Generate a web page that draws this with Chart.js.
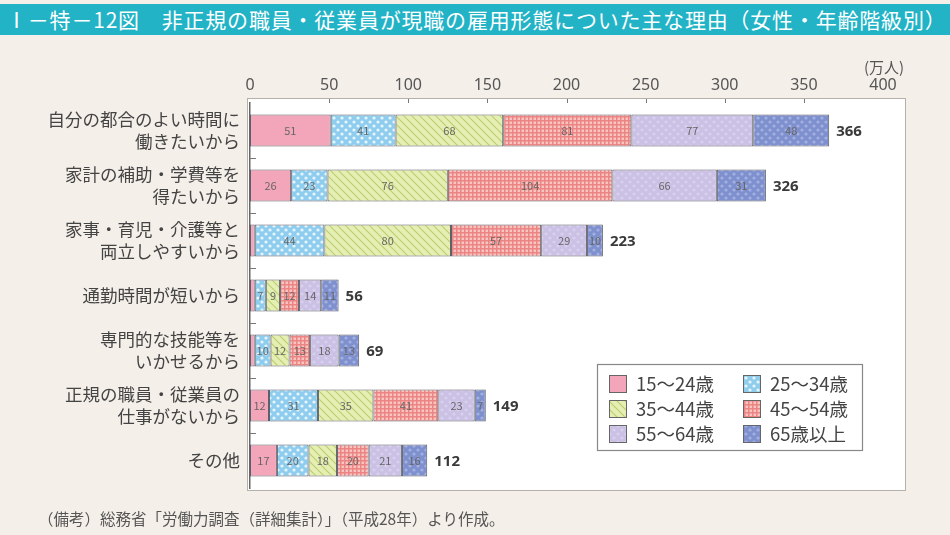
<!DOCTYPE html>
<html lang="ja">
<head>
<meta charset="utf-8">
<script src="https://cdn.jsdelivr.net/npm/chart.js@4.4.0/dist/chart.umd.min.js"></script>
<style>
    html, body { margin: 0; padding: 0; }
    body {
        width: 950px; height: 535px; position: relative; overflow: hidden;
        background: #f4efe9;
        font-family: "Noto Sans CJK JP", "Noto Sans", sans-serif;
    }
    .title {
        position: absolute; left: 0; top: 4px; width: 950px; height: 31px;
        background: #22b3c6; color: #fff; font-size: 21px; line-height: 31px;
        letter-spacing: 0.8px;
        padding-left: 6px; box-sizing: border-box; white-space: nowrap; overflow: hidden;
    }
    .note {
        position: absolute; left: 38px; top: 507px; font-size: 15.5px; color: #555;
    }
    #chart { position: absolute; left: 0; top: 0; }
</style>
</head>
<body>
<div class="title">Ⅰ－特－12図　非正規の職員・従業員が現職の雇用形態についた主な理由（女性・年齢階級別）</div>
<canvas id="chart" width="950" height="535"></canvas>
<div class="note">（備考）総務省「労働力調査（詳細集計）」（平成28年）より作成。</div>
<script>
    const categories = [
        ['自分の都合のよい時間に', '働きたいから'],
        ['家計の補助・学費等を', '得たいから'],
        ['家事・育児・介護等と', '両立しやすいから'],
        '通勤時間が短いから',
        ['専門的な技能等を', 'いかせるから'],
        ['正規の職員・従業員の', '仕事がないから'],
        'その他'
    ];
    const ageGroups = ['15～24歳', '25～34歳', '35～44歳', '45～54歳', '55～64歳', '65歳以上'];
    const age15to24 = [51, 26, 3, 3, 3, 12, 17];
    const age25to34 = [41, 23, 44, 7, 10, 31, 20];
    const age35to44 = [68, 76, 80, 9, 12, 35, 18];
    const age45to54 = [81, 104, 57, 12, 13, 41, 20];
    const age55to64 = [77, 66, 29, 14, 18, 23, 21];
    const age65plus = [48, 31, 10, 11, 13, 7, 16];
    const totals = [366, 326, 223, 56, 69, 149, 112];
    const xMax = 400;
    const xStep = 50;
    const unitLabel = '(万人)';

    // small tiles used as fill patterns
    function makePattern(bg, draw) {
        const c = document.createElement('canvas');
        c.width = 8; c.height = 8;
        const g = c.getContext('2d');
        g.fillStyle = bg;
        g.fillRect(0, 0, 8, 8);
        if (draw) draw(g);
        return g.createPattern(c, 'repeat');
    }
    function dots(color) {
        return g => {
            g.fillStyle = color;
            g.beginPath(); g.arc(2, 2, 1.6, 0, Math.PI * 2); g.fill();
            g.beginPath(); g.arc(6, 6, 1.6, 0, Math.PI * 2); g.fill();
        };
    }

    const fills = [
        '#f3a5b9',
        makePattern('#8fcdee', dots('#e6f5fd')),
        makePattern('#e5efb4', g => {
            g.strokeStyle = '#bccf72'; g.lineWidth = 1.2;
            g.beginPath(); g.moveTo(0, 0); g.lineTo(8, 8); g.stroke();
            g.beginPath(); g.moveTo(-4, 4); g.lineTo(4, 12); g.stroke();
            g.beginPath(); g.moveTo(4, -4); g.lineTo(12, 4); g.stroke();
        }),
        makePattern('#f8c4c0', g => {
            g.fillStyle = '#ec8484';
            g.fillRect(0, 0, 8, 1.5); g.fillRect(0, 4, 8, 1.5);
            g.fillRect(0, 0, 1.5, 8); g.fillRect(4, 0, 1.5, 8);
        }),
        makePattern('#cbc1e4', dots('#d8d0ee')),
        makePattern('#7f90cf', dots('#a3b0e0'))
    ];
    const series = [age15to24, age25to34, age35to44, age45to54, age55to64, age65plus];

    const decorPlugin = {
        id: 'decor',
        beforeDraw(chart) {
            const { ctx, chartArea: a } = chart;
            ctx.save();
            ctx.fillStyle = '#fff';
            ctx.fillRect(a.left - 2, a.top - 4, a.right - a.left + 24, a.bottom - a.top + 6);
            ctx.strokeStyle = '#b5b0aa';
            ctx.lineWidth = 1;
            ctx.strokeRect(a.left - 2.5, a.top - 4.5, a.right - a.left + 25, a.bottom - a.top + 7);
            ctx.restore();
        },
        afterDatasetsDraw(chart) {
            const { ctx, chartArea: a, scales } = chart;
            ctx.save();
            // small ticks inside the frame
            ctx.strokeStyle = '#777';
            ctx.lineWidth = 1;
            for (let v = xStep; v < xMax; v += xStep) {
                const x = Math.round(scales.x.getPixelForValue(v)) + 0.5;
                ctx.beginPath(); ctx.moveTo(x, a.top - 4); ctx.lineTo(x, a.top); ctx.stroke();
            }
            for (let i = 1; i < categories.length; i++) {
                const y = Math.round((scales.y.getPixelForValue(i - 1) + scales.y.getPixelForValue(i)) / 2) + 0.5;
                ctx.beginPath(); ctx.moveTo(a.left, y); ctx.lineTo(a.left + 6, y); ctx.stroke();
            }
            // values inside each segment
            ctx.font = '11px "Noto Sans CJK JP", sans-serif';
            ctx.fillStyle = '#666';
            ctx.textAlign = 'center';
            ctx.textBaseline = 'middle';
            chart.data.datasets.forEach((ds, di) => {
                chart.getDatasetMeta(di).data.forEach((el, i) => {
                    const w = Math.abs(el.x - el.base);
                    if (w < 9) return;
                    ctx.fillText(ds.data[i], (el.x + el.base) / 2, el.y);
                });
            });
            // totals
            ctx.font = 'bold 15px "Noto Sans", sans-serif';
            ctx.fillStyle = '#3a3a3a';
            ctx.textAlign = 'left';
            totals.forEach((t, i) => {
                ctx.fillText(t, scales.x.getPixelForValue(t) + 7, scales.y.getPixelForValue(i) + 1);
            });
            // unit
            ctx.font = '15px "Noto Sans CJK JP", sans-serif';
            ctx.fillStyle = '#555';
            ctx.textAlign = 'center';
            ctx.fillText(unitLabel, scales.x.getPixelForValue(xMax) + 1, 67);
            ctx.restore();
        },
        afterDraw(chart) {
            const ctx = chart.ctx;
            const bx = 597, by = 364, bw = 265, bh = 86;
            ctx.save();
            ctx.fillStyle = '#fff';
            ctx.fillRect(bx, by, bw, bh);
            ctx.strokeStyle = '#888';
            ctx.lineWidth = 1.2;
            ctx.strokeRect(bx + 0.5, by + 0.5, bw, bh);
            ctx.font = '18.5px "Noto Sans CJK JP", sans-serif';
            ctx.textBaseline = 'middle';
            ctx.textAlign = 'left';
            ageGroups.forEach((name, i) => {
                const col = i % 2, row = Math.floor(i / 2);
                const x = bx + 12 + col * 134, y = by + 19 + row * 25;
                ctx.fillStyle = fills[i];
                ctx.fillRect(x, y - 8, 18, 18);
                ctx.strokeStyle = '#666';
                ctx.lineWidth = 1;
                ctx.strokeRect(x + 0.5, y - 7.5, 17, 17);
                ctx.fillStyle = '#444';
                ctx.fillText(name, x + 27, y + 1);
            });
            ctx.restore();
        }
    };

    new Chart(document.getElementById('chart').getContext('2d'), {
        type: 'bar',
        data: {
            labels: categories,
            datasets: series.map((d, i) => ({
                label: ageGroups[i],
                data: d,
                backgroundColor: fills[i],
                borderColor: '#5e5e66',
                borderWidth: 1,
                borderSkipped: false,
                barPercentage: 0.58,
                categoryPercentage: 1
            }))
        },
        options: {
            indexAxis: 'y',
            responsive: false,
            animation: false,
            layout: { padding: { top: 72, right: 67, bottom: 47, left: 0 } },
            plugins: { legend: { display: false }, tooltip: { enabled: false } },
            scales: {
                x: {
                    position: 'top',
                    stacked: true,
                    min: 0,
                    max: xMax,
                    afterFit: s => { s.height = 31; },
                    grid: { display: false, drawTicks: false },
                    border: { display: false },
                    ticks: {
                        stepSize: xStep,
                        padding: 8,
                        color: '#555',
                        font: { size: 16, family: '"Noto Sans", sans-serif' }
                    }
                },
                y: {
                    stacked: true,
                    afterFit: s => { s.width = 250; },
                    grid: { display: false, drawTicks: false },
                    border: { display: true, color: '#666', width: 1.5 },
                    ticks: {
                        padding: 10,
                        color: '#444',
                        font: { size: 17.5, family: '"Noto Sans CJK JP", sans-serif', lineHeight: 1.25 }
                    }
                }
            }
        },
        plugins: [decorPlugin]
    });
</script>
</body>
</html>
